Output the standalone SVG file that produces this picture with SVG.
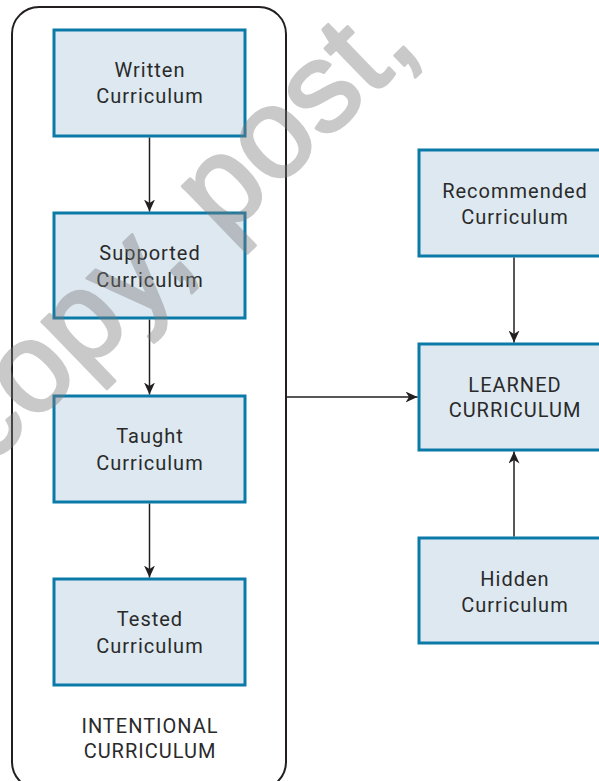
<svg xmlns="http://www.w3.org/2000/svg" width="599" height="781" viewBox="0 0 599 781">
<defs>
<style>
.box{fill:#dde8f0;stroke:#0b7aa8;stroke-width:3}
.lbl{font-family:Roboto,"Liberation Sans",sans-serif;font-size:20px;letter-spacing:1px;fill:#2a2a2a;text-anchor:middle}
.con{stroke:#231f20;stroke-width:1.5;fill:none}
.wm{font-family:"Liberation Sans",Arial,sans-serif;font-size:127px;fill:#7a7a7a;stroke:#7a7a7a;stroke-width:3;stroke-linejoin:round}
</style>
<marker id="ah" markerUnits="userSpaceOnUse" markerWidth="12" markerHeight="11" refX="12" refY="5.5" orient="auto">
<path d="M0,0 L12,5.5 L0,11 L3.5,5.5 Z" fill="#231f20"/>
</marker>
</defs>
<rect width="599" height="781" fill="#ffffff"/>
<g id="intentional">
<rect x="12" y="7" width="274" height="782" rx="27" ry="27" fill="none" stroke="#231f20" stroke-width="2"/>
<text class="lbl" x="150" y="733">INTENTIONAL</text>
<text class="lbl" x="150" y="758">CURRICULUM</text>
</g>
<g id="written">
<rect class="box" x="54" y="30" width="191" height="106"/>
<text class="lbl" x="150" y="77">Written</text>
<text class="lbl" x="150" y="103">Curriculum</text>
</g>
<g id="supported">
<rect class="box" x="54" y="213" width="191" height="105"/>
<text class="lbl" x="150" y="260">Supported</text>
<text class="lbl" x="150" y="287">Curriculum</text>
</g>
<g id="taught">
<rect class="box" x="54" y="396" width="191" height="106"/>
<text class="lbl" x="150" y="443">Taught</text>
<text class="lbl" x="150" y="470">Curriculum</text>
</g>
<g id="tested">
<rect class="box" x="54" y="579" width="191" height="106"/>
<text class="lbl" x="150" y="626">Tested</text>
<text class="lbl" x="150" y="653">Curriculum</text>
</g>
<g id="recommended">
<rect class="box" x="419" y="150" width="192" height="106"/>
<text class="lbl" x="515" y="198">Recommended</text>
<text class="lbl" x="515" y="224">Curriculum</text>
</g>
<g id="learned">
<rect class="box" x="419" y="344" width="192" height="106"/>
<text class="lbl" x="515" y="392">LEARNED</text>
<text class="lbl" x="515" y="417">CURRICULUM</text>
</g>
<g id="hidden">
<rect class="box" x="419" y="538" width="192" height="105"/>
<text class="lbl" x="515" y="586">Hidden</text>
<text class="lbl" x="515" y="612">Curriculum</text>
</g>
<g id="connectors">
<line class="con" x1="149.5" y1="137.5" x2="149.5" y2="211.5" marker-end="url(#ah)"/>
<line class="con" x1="149.5" y1="319.5" x2="149.5" y2="394.5" marker-end="url(#ah)"/>
<line class="con" x1="149.5" y1="503.5" x2="149.5" y2="577.5" marker-end="url(#ah)"/>
<line class="con" x1="514" y1="257.5" x2="514" y2="342.5" marker-end="url(#ah)"/>
<line class="con" x1="514" y1="536.5" x2="514" y2="451.5" marker-end="url(#ah)"/>
<line class="con" x1="287" y1="397" x2="417.5" y2="397" marker-end="url(#ah)"/>
</g>
<g id="watermark" opacity="0.4">
<text class="wm" transform="translate(-14,469) rotate(-44)">copy, post,</text>
</g>
</svg>
